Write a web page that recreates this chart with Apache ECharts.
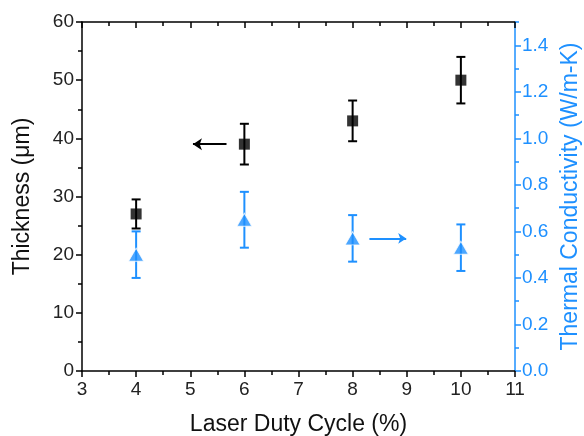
<!DOCTYPE html>
<html>
<head>
<meta charset="utf-8">
<script src="https://cdn.jsdelivr.net/npm/echarts@6/dist/echarts.min.js"></script>
<style>html,body{margin:0;padding:0;background:#fff}#c{width:584px;height:436px}</style>
</head>
<body>
<div id="c"></div>
<script>
var dutyCycle = [4, 6, 8, 10];
var thickness = [27, 39, 43, 50];
var thicknessErr = [2.5, 3.5, 3.5, 4];
var conductivity = [0.5, 0.65, 0.57, 0.53];
var conductivityErr = [0.1, 0.12, 0.1, 0.1];
var xTitle = 'Laser Duty Cycle (%)';
var yLeftTitle = 'Thickness (μm)';
var yRightTitle = 'Thermal Conductivity (W/m-K)';
var blackArrow = [[5.67, 39], [5.05, 39]];
var blueArrow = [[8.31, 0.57], [8.99, 0.57]];

var BLUE = '#1E90FF';
var FONT = 'Liberation Sans, Arial, sans-serif';

function pts(xs, ys) { return xs.map(function (x, i) { return [x, ys[i]]; }); }
function errs(xs, ys, es) { return xs.map(function (x, i) { return [x, ys[i] - es[i], ys[i] + es[i]]; }); }

function errRender(color) {
  return function (params, api) {
    var x = api.value(0);
    var lo = api.coord([x, api.value(1)]);
    var hi = api.coord([x, api.value(2)]);
    var hw = 4.5;
    var st = { stroke: color, lineWidth: 2 };
    return {
      type: 'group',
      children: [
        { type: 'line', shape: { x1: lo[0], y1: lo[1], x2: hi[0], y2: hi[1] }, style: st },
        { type: 'line', shape: { x1: lo[0] - hw, y1: lo[1], x2: lo[0] + hw, y2: lo[1] }, style: st },
        { type: 'line', shape: { x1: hi[0] - hw, y1: hi[1], x2: hi[0] + hw, y2: hi[1] }, style: st }
      ]
    };
  };
}

var chart = echarts.init(document.getElementById('c'));
chart.setOption({
  animation: false,
  textStyle: { fontFamily: FONT },
  grid: { left: 82, right: 69, top: 22, bottom: 65, containLabel: false, outerBoundsMode: 'none' },
  xAxis: [{
    type: 'value', min: 3, max: 11, interval: 1, position: 'bottom',
    axisLine: { show: true, onZero: false, lineStyle: { color: '#000', width: 1.5 } },
    axisTick: { length: 6, lineStyle: { color: '#000', width: 1.5 } },
    minorTick: { show: true, splitNumber: 2, length: 4, lineStyle: { color: '#000', width: 1.5 } },
    axisLabel: { fontSize: 19, color: '#222', margin: 9, fontFamily: FONT },
    splitLine: { show: false },
    name: xTitle, nameLocation: 'middle', nameGap: 42,
    nameTextStyle: { fontSize: 23, color: '#111', fontFamily: FONT }
  }, {
    type: 'value', min: 3, max: 11, interval: 1, position: 'top',
    axisLine: { show: true, onZero: false, lineStyle: { color: '#000', width: 1.5 } },
    axisTick: { show: true, inside: true, length: 6, lineStyle: { color: '#000', width: 1.5 } },
    minorTick: { show: true, splitNumber: 2, length: 4, lineStyle: { color: '#000', width: 1.5 } },
    axisLabel: { show: false },
    splitLine: { show: false }
  }],
  yAxis: [{
    type: 'value', min: 0, max: 60, interval: 10, position: 'left',
    axisLine: { show: true, onZero: false, lineStyle: { color: '#000', width: 1.5 } },
    axisTick: { length: 6, lineStyle: { color: '#000', width: 1.5 } },
    minorTick: { show: true, splitNumber: 2, length: 4, lineStyle: { color: '#000', width: 1.5 } },
    axisLabel: { fontSize: 19, color: '#222', margin: 8, fontFamily: FONT },
    splitLine: { show: false },
    name: yLeftTitle, nameLocation: 'middle', nameGap: 48, nameRotate: 90,
    nameTextStyle: { fontSize: 23, color: '#111', fontFamily: FONT }
  }, {
    type: 'value', min: 0, max: 1.5, interval: 0.2, position: 'right',
    axisLine: { show: true, onZero: false, lineStyle: { color: BLUE, width: 1.5 } },
    axisTick: { length: 6, lineStyle: { color: BLUE, width: 1.5 } },
    axisLabel: { fontSize: 19, color: BLUE, margin: 7, showMaxLabel: false, fontFamily: FONT,
      formatter: function (v) { return v.toFixed(1); } },
    splitLine: { show: false },
    name: yRightTitle, nameLocation: 'middle', nameGap: 43, nameRotate: 90,
    nameTextStyle: { fontSize: 23, color: BLUE, fontFamily: FONT }
  }, {
    type: 'value', min: 0, max: 1.5, interval: 0.1, position: 'right',
    axisLine: { show: false },
    axisTick: { show: true, length: 4, lineStyle: { color: BLUE, width: 1.5 } },
    axisLabel: { show: false },
    splitLine: { show: false }
  }],
  series: [{
    type: 'custom', xAxisIndex: 0, yAxisIndex: 0, z: 2,
    renderItem: errRender('#000'),
    data: errs(dutyCycle, thickness, thicknessErr)
  }, {
    type: 'custom', xAxisIndex: 0, yAxisIndex: 1, z: 2,
    renderItem: errRender(BLUE),
    data: errs(dutyCycle, conductivity, conductivityErr)
  }, {
    type: 'scatter', xAxisIndex: 0, yAxisIndex: 0, z: 5,
    symbol: 'rect', symbolSize: 11,
    itemStyle: { color: '#000' },
    data: pts(dutyCycle, thickness),
    markLine: {
      silent: true, symbol: ['none', 'arrow'], symbolSize: [9, 9],
      label: { show: false },
      lineStyle: { color: '#000', width: 2, type: 'solid' },
      data: [[{ coord: blackArrow[0] }, { coord: blackArrow[1] }]]
    }
  }, {
    type: 'scatter', xAxisIndex: 0, yAxisIndex: 1, z: 5,
    symbol: 'triangle', symbolSize: [15, 13],
    itemStyle: { color: BLUE, borderColor: '#fff', borderWidth: 1 },
    data: pts(dutyCycle, conductivity),
    markLine: {
      silent: true, symbol: ['none', 'arrow'], symbolSize: [8, 8],
      label: { show: false },
      lineStyle: { color: BLUE, width: 2, type: 'solid' },
      data: [[{ coord: blueArrow[0] }, { coord: blueArrow[1] }]]
    }
  }]
});
</script>
</body>
</html>
